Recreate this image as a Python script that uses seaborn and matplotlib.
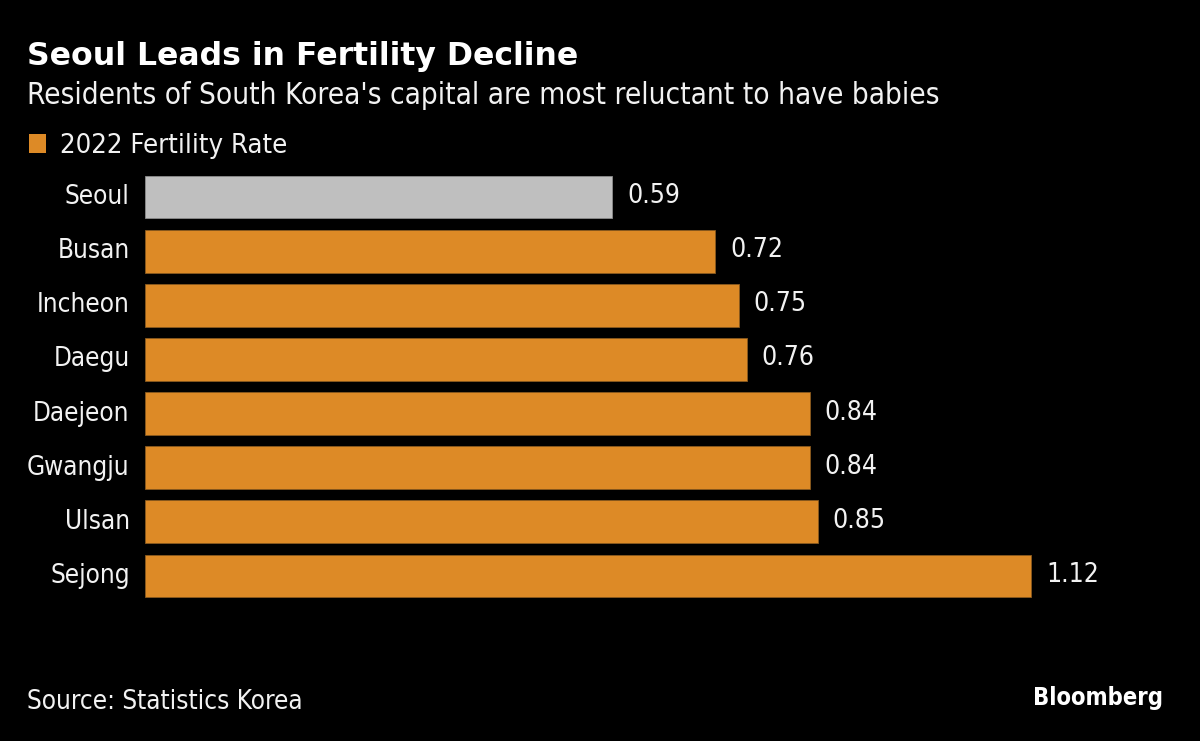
import matplotlib
matplotlib.use('Agg')
import matplotlib.pyplot as plt
from matplotlib.patches import Patch
import seaborn as sns

# data
cities = ['Seoul', 'Busan', 'Incheon', 'Daegu', 'Daejeon', 'Gwangju', 'Ulsan', 'Sejong']
rates = [0.59, 0.72, 0.75, 0.76, 0.84, 0.84, 0.85, 1.12]
highlight = 'Seoul'

title = 'Seoul Leads in Fertility Decline'
subtitle = "Residents of South Korea's capital are most reluctant to have babies"
legend_label = '2022 Fertility Rate'
source = 'Source: Statistics Korea'

ORANGE = '#dd8a26'
GREY = '#bfbfbf'
TEXT = '#f2f2f2'

sns.set_style('dark', {'axes.facecolor': 'black', 'figure.facecolor': 'black'})
plt.rcParams['font.family'] = ['DejaVu Sans']
plt.rcParams['font.stretch'] = 'condensed'

W, H = 1200, 741
fig = plt.figure(figsize=(W / 100, H / 100), dpi=100)
fig.patch.set_facecolor('black')

# axes placed so bars sit where they do in the reference
left_px, right_px, top_px, bot_px = 145, 1100, 170, 603
ax = fig.add_axes([left_px / W, 1 - bot_px / H,
                   (right_px - left_px) / W, (bot_px - top_px) / H])
ax.set_facecolor('black')

palette = {c: (GREY if c == highlight else ORANGE) for c in cities}
sns.barplot(x=rates, y=cities, hue=cities, palette=palette, legend=False,
            width=0.79, orient='h', saturation=1, ax=ax,
            edgecolor='#8a5a1e', linewidth=0.6)
for p, c in zip(ax.patches, cities):
    if c == highlight:
        p.set_edgecolor('#8c8c8c')

ax.set_xlim(0, (right_px - left_px) / 791.5)
ax.set_ylim(len(cities) - 0.5, -0.5)
ax.set_xticks([])
ax.set_xlabel('')
ax.set_ylabel('')
for s in ax.spines.values():
    s.set_visible(False)
ax.tick_params(axis='y', length=0, pad=11, labelsize=18.7, labelcolor=TEXT)
for lbl in ax.get_yticklabels():
    lbl.set_verticalalignment('center')
ax.grid(False)

for i, v in enumerate(rates):
    ax.annotate('{:.2f}'.format(v), xy=(v, i), xytext=(15, 1),
                textcoords='offset pixels',
                va='center', ha='left', fontsize=19, color=TEXT)

fig.text(27 / W, 1 - 56 / H, title, fontsize=22.7, fontweight='bold',
         fontstretch='normal', color='white', va='center', ha='left')
fig.text(27 / W, 1 - 95 / H, subtitle, fontsize=21.3, color=TEXT,
         va='center', ha='left')

fig.legend(handles=[Patch(facecolor=ORANGE, edgecolor='none', label=legend_label)],
           loc='center left', bbox_to_anchor=(29 / W, 1 - 146 / H),
           frameon=False, fontsize=19.7, labelcolor=TEXT, borderpad=0,
           borderaxespad=0, handlelength=0.62, handleheight=0.7,
           handletextpad=0.5)

fig.text(27 / W, 1 - 702 / H, source, fontsize=18.7, color=TEXT,
         va='center', ha='left')
fig.text(1163 / W, 1 - 698 / H, 'Bloomberg', fontsize=17, fontweight='bold',
         color='white', va='center', ha='right')

fig.savefig('out.png', dpi=100, facecolor='black')
